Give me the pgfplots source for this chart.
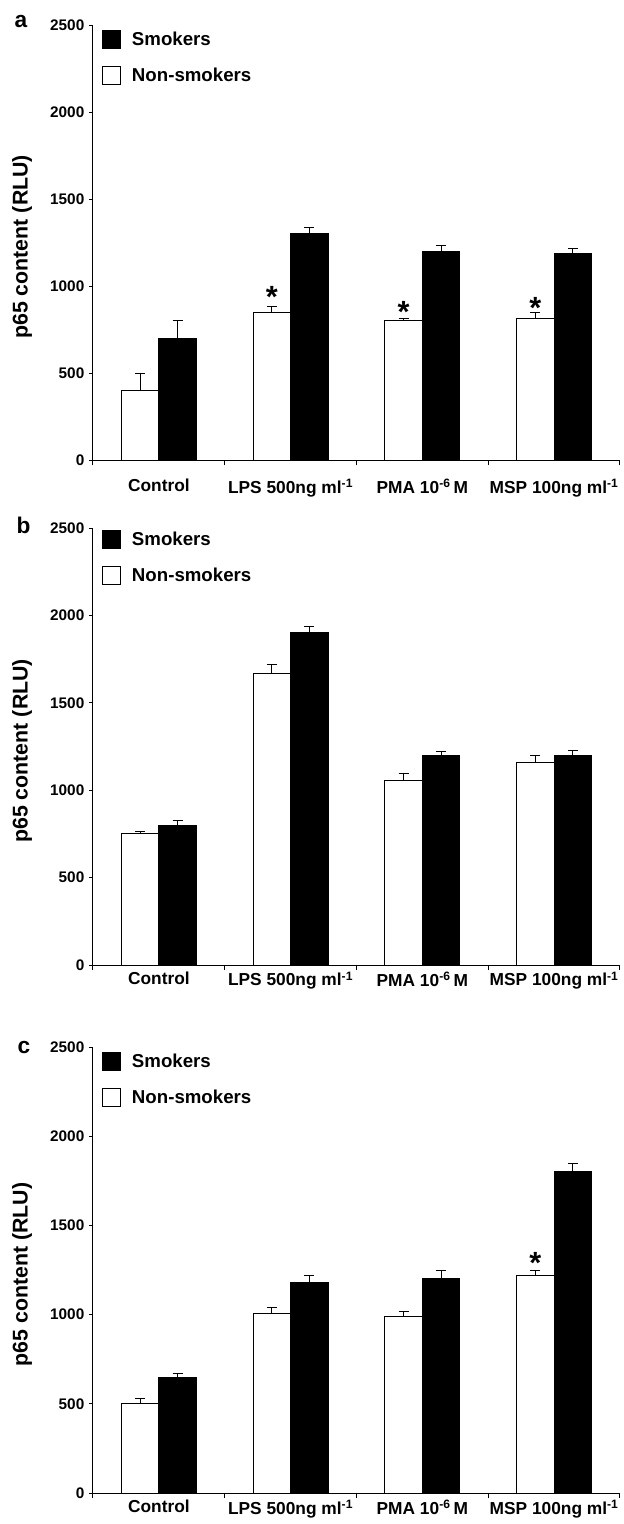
\documentclass[border=0pt]{standalone}
\usepackage{fontspec}
\setmainfont{Liberation Sans}
\usepackage{pgfplots}
\pgfplotsset{compat=1.18}

\pgfplotsset{
  panel/.style={
    scale only axis, width=395.25pt,
    anchor=south west,
    xmin=-0.5, xmax=3.5, ymin=0, ymax=2500,
    axis lines=left,
    axis line style={-, line width=0.75pt, black},
    ytick={0,500,1000,1500,2000,2500},
    xtick={0,1,2,3},
    minor xtick={-0.5,0.5,1.5,2.5,3.5},
    xticklabels={Control, LPS 500ng ml\textsuperscript{-1}, PMA 10\textsuperscript{-6}\,M, MSP 100ng ml\textsuperscript{-1}},
    tick align=outside,
    major tick length=3pt, minor tick length=3.75pt,
    tick style={black, line width=0.75pt},
    major x tick style={draw=none},
    /pgf/number format/assume math mode=true,
    /pgf/number format/1000 sep={},
    yticklabel style={font=\fontsize{11.5}{13}\selectfont\bfseries},
    xticklabel style={font=\fontsize{13}{15}\selectfont\bfseries},
    ylabel={p65 content (RLU)},
    ylabel style={font=\fontsize{16}{18}\selectfont\bfseries, at={(axis description cs:-0.1347,0.49)}, anchor=center, rotate=0},
    legend cell align=left,
    legend style={draw=none, fill=none, inner sep=0pt, outer sep=0pt, row sep=13.1pt,
      font=\fontsize{14}{16}\selectfont\bfseries, nodes={inner sep=0pt, anchor=west},
      /tikz/every odd column/.append style={column sep=8.25pt}},
    clip=false,
  },
  nsbar/.style={ybar, bar width=0.285, bar shift=0, fill=white, draw=black, line width=0.75pt, forget plot,
    error bars/.cd, y dir=plus, y explicit,
    error bar style={line width=0.75pt, black},
    error mark options={rotate=90, mark size=3.75pt, line width=0.75pt, black}},
  sbar/.style={ybar, bar width=0.285, bar shift=0, fill=black, draw=black, line width=0.75pt, forget plot,
    error bars/.cd, y dir=plus, y explicit,
    error bar style={line width=0.75pt, black},
    error mark options={rotate=90, mark size=3.75pt, line width=0.75pt, black}},
  legS/.style={legend image code/.code={\draw[fill=black, line width=0.75pt] (0pt,-6.75pt) rectangle (13.5pt,6.75pt);}},
  legN/.style={legend image code/.code={\draw[fill=white, line width=0.75pt] (0pt,-6.75pt) rectangle (13.5pt,6.75pt);}},
}

\begin{document}
\begin{tikzpicture}
\useasboundingbox (0pt,0pt) rectangle (468pt,-1143pt);

% ---------------- panel a ----------------
\begin{axis}[panel, height=326.25pt, at={(69.75pt,-345pt)},
  xticklabel style={yshift=-8pt},
  legend style={at={(axis description cs:0,1)}, anchor=north west, xshift=6.75pt, yshift=-3.75pt}]
% Non-smokers (bars left of category centre)
\addplot[nsbar] coordinates {(-0.1425,400) +- (0,100) (0.8575,850) +- (0,30) (1.8575,800) +- (0,15) (2.8575,815) +- (0,35)};
% Smokers (bars right of category centre)
\addplot[sbar] coordinates {(0.1425,700) +- (0,100) (1.1425,1300) +- (0,35) (2.1425,1200) +- (0,33) (3.1425,1185) +- (0,28)};
\addlegendimage{legS}\addlegendentry{Smokers}
\addlegendimage{legN}\addlegendentry{Non-smokers}
\node[font=\fontsize{23}{23}\selectfont\bfseries, anchor=base] at (axis cs:0.8575,878) {*};
\node[font=\fontsize{23}{23}\selectfont\bfseries, anchor=base] at (axis cs:1.8575,792) {*};
\node[font=\fontsize{23}{23}\selectfont\bfseries, anchor=base] at (axis cs:2.8575,811) {*};
\end{axis}
\node[font=\fontsize{17}{17}\selectfont\bfseries, anchor=base west] at (7.5pt,-20.25pt) {a};

% ---------------- panel b ----------------
\begin{axis}[panel, height=327.75pt, at={(69.75pt,-723.75pt)},
  xticklabel style={yshift=1.5pt},
  legend style={at={(axis description cs:0,1)}, anchor=north west, xshift=6.75pt, yshift=-1.5pt}]
\addplot[nsbar] coordinates {(-0.1425,750) +- (0,12) (0.8575,1670) +- (0,50) (1.8575,1055) +- (0,42) (2.8575,1160) +- (0,40)};
\addplot[sbar] coordinates {(0.1425,800) +- (0,27) (1.1425,1900) +- (0,37) (2.1425,1200) +- (0,20) (3.1425,1200) +- (0,28)};
\addlegendimage{legS}\addlegendentry{Smokers}
\addlegendimage{legN}\addlegendentry{Non-smokers}
\end{axis}
\node[font=\fontsize{17}{17}\selectfont\bfseries, anchor=base west] at (9pt,-399.75pt) {b};

% ---------------- panel c ----------------
\begin{axis}[panel, height=334.5pt, at={(69.75pt,-1119.75pt)},
  xticklabel style={yshift=1pt},
  legend style={at={(axis description cs:0,1)}, anchor=north west, xshift=6.75pt, yshift=-3.75pt}]
\addplot[nsbar] coordinates {(-0.1425,500) +- (0,28) (0.8575,1005) +- (0,33) (1.8575,990) +- (0,28) (2.8575,1220) +- (0,25)};
\addplot[sbar] coordinates {(0.1425,650) +- (0,20) (1.1425,1180) +- (0,37) (2.1425,1200) +- (0,45) (3.1425,1800) +- (0,45)};
\addlegendimage{legS}\addlegendentry{Smokers}
\addlegendimage{legN}\addlegendentry{Non-smokers}
\node[font=\fontsize{23}{23}\selectfont\bfseries, anchor=base] at (axis cs:2.8575,1228) {*};
\end{axis}
\node[font=\fontsize{17}{17}\selectfont\bfseries, anchor=base west] at (9.75pt,-789.75pt) {c};
\end{tikzpicture}
\end{document}
